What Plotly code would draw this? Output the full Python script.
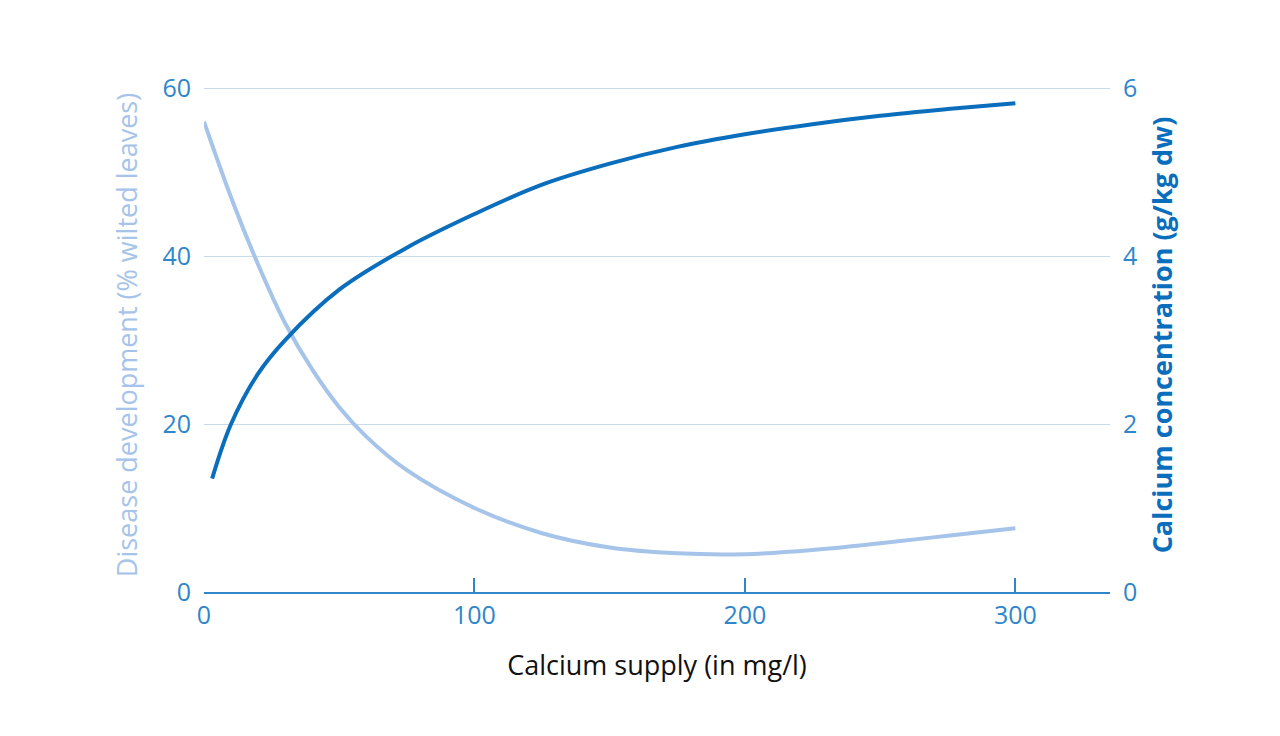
import plotly.graph_objects as go

# Calcium supply (mg/l)
supply_disease = [0, 10, 20, 30, 40, 50, 60, 75, 100, 125, 150, 175, 200, 225, 250, 275, 300]
disease_pct = [56, 47, 39, 32, 26.5, 22, 18.5, 14.5, 10, 7, 5.3, 4.6, 4.5, 5, 5.8, 6.7, 7.6]

supply_conc = [3, 10, 20, 30, 50, 75, 100, 125, 150, 175, 200, 225, 250, 275, 300]
calcium_conc = [1.35, 2.0, 2.6, 3.0, 3.6, 4.1, 4.5, 4.85, 5.1, 5.3, 5.45, 5.57, 5.67, 5.75, 5.82]

LIGHT = "#a6c4e9"
DARK = "#0a6ebd"
TICK = "#2f86c9"
FONT = "Open Sans"

fig = go.Figure()
fig.add_trace(go.Scatter(x=supply_disease, y=disease_pct, mode="lines",
                         line=dict(color=LIGHT, width=4, shape="spline"), yaxis="y"))
fig.add_trace(go.Scatter(x=supply_conc, y=calcium_conc, mode="lines",
                         line=dict(color=DARK, width=4, shape="spline"), yaxis="y2"))

fig.update_layout(
    width=1280, height=736,
    margin=dict(l=196, r=178, t=70, b=152),
    plot_bgcolor="white", paper_bgcolor="white",
    showlegend=False,
    font=dict(family=FONT, size=25, color=TICK),
    xaxis=dict(range=[0, 335], tickvals=[0, 100, 200, 300], showgrid=False, zeroline=False,
               showline=True, linecolor=TICK, linewidth=1.5,
               ticks="inside", ticklen=14, tickcolor=TICK, tickwidth=1.5,
               tickfont=dict(size=25, color=TICK),
               title=dict(text="Calcium supply (in mg/l)", font=dict(size=27, color="#111111"), standoff=26)),
    yaxis=dict(range=[0, 61.2], tickvals=[0, 20, 40, 60], showgrid=True, gridcolor="#c9d9ee", gridwidth=1,
               zeroline=False, showline=False, ticks="", ticklabelstandoff=12,
               tickfont=dict(size=25, color=TICK),
               title=dict(text="Disease development (% wilted leaves)", font=dict(size=27, color=LIGHT), standoff=16)),
    yaxis2=dict(range=[0, 6.12], tickvals=[0, 2, 4, 6], overlaying="y", side="right", showgrid=False,
                zeroline=False, showline=False, ticks="", ticklabelstandoff=12,
                tickfont=dict(size=25, color=TICK),
                title=dict(text="<b>Calcium concentration (g/kg dw)</b>", font=dict(size=27, color=DARK), standoff=16)),
)

fig.write_html("out.html")
